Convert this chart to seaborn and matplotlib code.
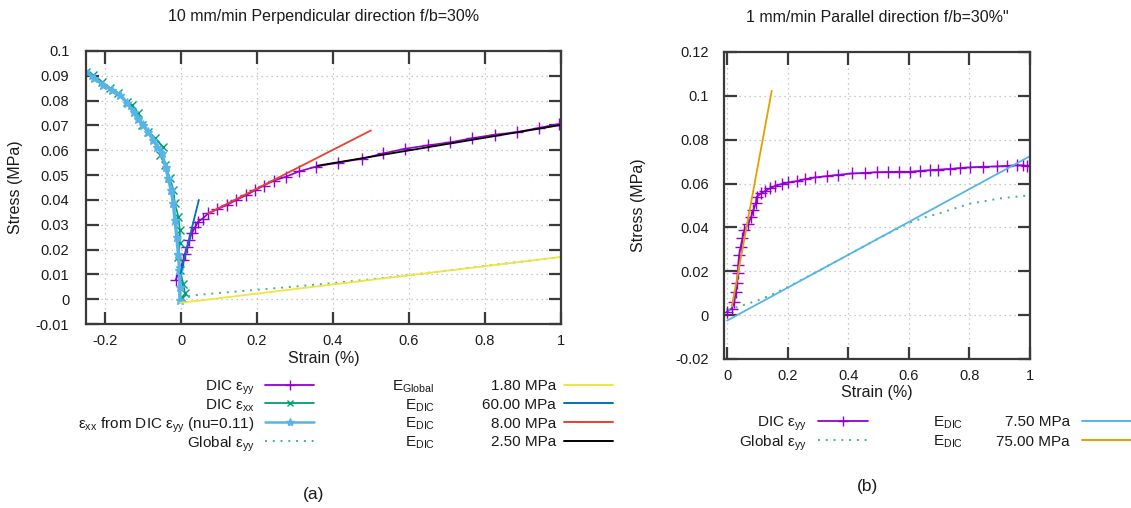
import matplotlib
matplotlib.use("Agg")
import matplotlib.pyplot as plt
import seaborn as sns
from matplotlib.lines import Line2D
from matplotlib.ticker import FixedLocator, FuncFormatter

# ---- data ----
# (a) 10 mm/min perpendicular
a_dic_yy_x = [-0.014, 0.006, 0.0105, 0.0166, 0.022, 0.028, 0.037, 0.045, 0.057, 0.072, 0.095,
              0.120, 0.146, 0.170, 0.194, 0.218, 0.245, 0.277, 0.311, 0.355, 0.413, 0.477,
              0.531, 0.589, 0.650, 0.709, 0.767, 0.826, 0.883, 0.941, 0.995]
a_dic_yy_y = [0.0077, 0.0157, 0.0184, 0.0211, 0.0238, 0.0265, 0.029, 0.0312, 0.0325, 0.0346, 0.0362,
              0.0379, 0.040, 0.0418, 0.0438, 0.0458, 0.0478, 0.0494, 0.0515, 0.0534, 0.055, 0.0566,
              0.0587, 0.0606, 0.062, 0.0632, 0.0649, 0.0663, 0.0673, 0.069, 0.0706]
a_dic_xx_x = [0.002, 0.0105, 0.006, -0.003, -0.007, -0.003, -0.003, -0.007, -0.016, -0.020, -0.029,
              -0.042, -0.055, -0.047, -0.068, -0.086, -0.103, -0.112, -0.130, -0.143, -0.165,
              -0.187, -0.209, -0.231, -0.25]
a_dic_xx_y = [0.0003, 0.0023, 0.0063, 0.0117, 0.0171, 0.0225, 0.0278, 0.0332, 0.0386, 0.044, 0.0487,
              0.054, 0.058, 0.0614, 0.0648, 0.0675, 0.0702, 0.0749, 0.0782, 0.0796, 0.083,
              0.085, 0.0876, 0.0903, 0.0917]
a_nu_xx_x = [-0.003, -0.003, -0.004, -0.007, -0.011, -0.016, -0.020, -0.026, -0.034, -0.040, -0.051,
             -0.062, -0.073, -0.086, -0.099, -0.112, -0.125, -0.142, -0.160, -0.182, -0.204,
             -0.228, -0.252]
a_nu_xx_y = [-0.0004, 0.005, 0.0117, 0.0184, 0.0251, 0.0319, 0.0386, 0.044, 0.049, 0.0533, 0.0587,
             0.0615, 0.0641, 0.0672, 0.0702, 0.0728, 0.0755, 0.079, 0.0823, 0.0843, 0.0863,
             0.089, 0.0921]
a_global_x = [0.0, 0.01, 0.03, 0.1, 0.2, 0.3, 0.4, 0.5, 0.6, 0.7, 0.8, 0.9, 1.0]
a_global_y = [0.0, 0.0008, 0.0015, 0.0025, 0.0038, 0.0051, 0.0065, 0.0080, 0.0097, 0.0115,
              0.0134, 0.0152, 0.017]
a_fit_global_x, a_fit_global_y = [-0.003, 1.0], [-0.0015, 0.017]   # 1.80 MPa
a_fit_60_x, a_fit_60_y = [-0.001, 0.047], [0.0104, 0.040]           # 60.00 MPa
a_fit_8_x, a_fit_8_y = [0.072, 0.50], [0.0346, 0.068]               # 8.00 MPa
a_fit_25_x, a_fit_25_y = [0.36, 1.0], [0.0538, 0.0702]              # 2.50 MPa

# (b) 1 mm/min parallel
b_dic_yy_x = [-0.001, 0.0155, 0.024, 0.029, 0.032, 0.035, 0.037, 0.040, 0.045, 0.051, 0.057, 0.070,
              0.079, 0.087, 0.095, 0.098, 0.112, 0.125, 0.142, 0.158, 0.180, 0.202, 0.230, 0.257,
              0.290, 0.329, 0.367, 0.412, 0.455, 0.494, 0.530, 0.566, 0.604, 0.637, 0.670, 0.697,
              0.736, 0.769, 0.802, 0.846, 0.890, 0.923, 0.956, 0.978, 0.99]
b_dic_yy_y = [0.0015, 0.003, 0.006, 0.0106, 0.0145, 0.019, 0.0228, 0.0274, 0.0312, 0.035, 0.0388,
              0.0415, 0.0446, 0.0479, 0.051, 0.054, 0.0555, 0.0566, 0.0578, 0.0589, 0.0598, 0.0605,
              0.0611, 0.062, 0.0628, 0.0634, 0.064, 0.0646, 0.0649, 0.0652, 0.0653, 0.0654, 0.0654,
              0.0658, 0.0661, 0.0664, 0.0667, 0.0671, 0.0674, 0.0677, 0.0678, 0.0681, 0.0683,
              0.0683, 0.068]
b_global_x = [0.004, 0.03, 0.07, 0.10, 0.15, 0.2, 0.3, 0.4, 0.5, 0.6, 0.65, 0.7, 0.8, 0.9, 1.0]
b_global_y = [0.0023, 0.0035, 0.0053, 0.0066, 0.0095, 0.0128, 0.020, 0.0275, 0.035, 0.042, 0.0445,
              0.0464, 0.0508, 0.0532, 0.0547]
b_fit_75_x, b_fit_75_y = [0.0, 1.0], [-0.0025, 0.0725]              # 7.50 MPa
b_fit_750_x, b_fit_750_y = [0.016, 0.1475], [0.004, 0.1023]         # 75.00 MPa

a_xticks = [-0.2, 0, 0.2, 0.4, 0.6, 0.8, 1.0]
a_yticks = [-0.01, 0, 0.01, 0.02, 0.03, 0.04, 0.05, 0.06, 0.07, 0.08, 0.09, 0.1]
b_xticks = [0, 0.2, 0.4, 0.6, 0.8, 1.0]
b_yticks = [-0.02, 0, 0.02, 0.04, 0.06, 0.08, 0.1, 0.12]

PURPLE, GREEN, LBLUE = "#9400d3", "#009e73", "#56b4e9"
DOTTED = "#3fb58e"
YELLOW, BLUE, RED, ORANGE = "#f0e442", "#0072b2", "#e8412e", "#e69f00"
INK = "#1a1a1a"
LEG_FS = 11

sns.set_theme(style="white")
plt.rcParams["font.family"] = ["Liberation Sans", "DejaVu Sans"]
plt.rcParams["mathtext.fontset"] = "custom"
plt.rcParams["mathtext.rm"] = "Liberation Sans"
plt.rcParams["mathtext.it"] = "Liberation Sans:italic"

W, H = 1131, 508


def fx(px):
    return px / W


def fy(py):
    return 1 - py / H


def curve(ax, x, y, color, **kw):
    if "marker" in kw:
        kw.setdefault("markeredgecolor", color)
        kw.setdefault("markeredgewidth", 1.0)
    sns.lineplot(x=x, y=y, ax=ax, color=color, sort=False, estimator=None,
                 legend=False, **kw)


def style_axes(ax, xlim, ylim, xticks, yticks, ypad):
    ax.set_xlim(*xlim)
    ax.set_ylim(*ylim)
    fmt = FuncFormatter(lambda v, p: f"{round(v, 3) + 0.0:g}")
    ax.xaxis.set_major_locator(FixedLocator(xticks))
    ax.yaxis.set_major_locator(FixedLocator(yticks))
    ax.xaxis.set_major_formatter(fmt)
    ax.yaxis.set_major_formatter(fmt)
    ax.grid(True, color="#b8b8b8", linestyle=(0, (1, 3)), linewidth=0.9)
    ax.tick_params(direction="in", left=True, bottom=True, top=True, right=True,
                   length=9, width=1.6, color="#3a3a3a", labelsize=10.5, labelcolor=INK)
    ax.tick_params(axis="y", pad=ypad)
    ax.tick_params(axis="x", pad=7)
    for s in ax.spines.values():
        s.set_color("#3a3a3a")
        s.set_linewidth(1.6)
    ax.set_xlabel("Strain (%)", fontsize=11.5, color=INK)
    ax.set_ylabel("Stress (MPa)", fontsize=11.5, color=INK)


def key(fig, y, label, x_text, x0, x1, color, **kw):
    fig.text(fx(x_text), fy(y), label, ha="right", va="center_baseline",
             fontsize=LEG_FS, color=INK)
    xm = (x0 + x1) / 2
    fig.add_artist(Line2D([fx(x0), fx(xm), fx(x1)], [fy(y)] * 3, transform=fig.transFigure,
                          color=color, markevery=[1], markeredgecolor=color, **kw))


fig = plt.figure(figsize=(W / 100, H / 100), dpi=100)
ax1 = fig.add_axes([fx(86), fy(324), 475 / W, 273 / H])
ax2 = fig.add_axes([fx(724), fy(359), 306 / W, 307 / H])

# (a)
curve(ax1, a_dic_yy_x, a_dic_yy_y, PURPLE, marker="+", markersize=8, linewidth=1.2)
curve(ax1, a_dic_xx_x, a_dic_xx_y, GREEN, marker="x", markersize=5.5, linewidth=1.2)
curve(ax1, a_nu_xx_x, a_nu_xx_y, LBLUE, marker="*", markersize=6.5, linewidth=2.4)
curve(ax1, a_global_x, a_global_y, DOTTED, linestyle=(0, (1, 3)), linewidth=1.4)
curve(ax1, a_fit_global_x, a_fit_global_y, YELLOW, linewidth=1.3)
curve(ax1, a_fit_60_x, a_fit_60_y, BLUE, linewidth=1.3)
curve(ax1, a_fit_8_x, a_fit_8_y, RED, linewidth=1.3)
curve(ax1, a_fit_25_x, a_fit_25_y, "black", linewidth=1.3)
style_axes(ax1, (-0.25, 1.0), (-0.01, 0.1), a_xticks, a_yticks, 12)
ax1.xaxis.set_label_coords(0.5, -(358 - 324) / 273)
ax1.xaxis.label.set_va("center")
ax1.yaxis.set_label_coords((16 - 86) / 475, 0.5)
ax1.yaxis.label.set_va("center")

# (b)
curve(ax2, b_dic_yy_x, b_dic_yy_y, PURPLE, marker="+", markersize=8, linewidth=1.2)
curve(ax2, b_global_x, b_global_y, DOTTED, linestyle=(0, (1, 3)), linewidth=1.4)
curve(ax2, b_fit_75_x, b_fit_75_y, LBLUE, linewidth=1.3)
curve(ax2, b_fit_750_x, b_fit_750_y, ORANGE, linewidth=1.3)
style_axes(ax2, (-0.01, 1.0), (-0.02, 0.12), b_xticks, b_yticks, 11)
ax2.xaxis.set_label_coords(0.5, -(393 - 359) / 307)
ax2.xaxis.label.set_va("center")
ax2.yaxis.set_label_coords((638 - 724) / 306, 0.5)
ax2.yaxis.label.set_va("center")

fig.text(fx(323.5), fy(17), "10 mm/min Perpendicular direction f/b=30%", ha="center",
         va="center", fontsize=11.5, color=INK)
fig.text(fx(877), fy(17), "1 mm/min Parallel direction f/b=30%\"", ha="center",
         va="center", fontsize=11.5, color=INK)

# legend (a)
rows_a = [384.5, 403.3, 422, 440.8]
key(fig, rows_a[0], "DIC ε$_\\mathrm{yy}$", 255, 265, 314, PURPLE, marker="+", markersize=7, lw=1.3)
key(fig, rows_a[1], "DIC ε$_\\mathrm{xx}$", 255, 265, 314, GREEN, marker="x", markersize=5, lw=1.3)
key(fig, rows_a[2], "ε$_\\mathrm{xx}$ from DIC ε$_\\mathrm{yy}$ (nu=0.11)", 255, 265, 314, LBLUE,
    marker="*", markersize=6, lw=1.8)
key(fig, rows_a[3], "Global ε$_\\mathrm{yy}$", 255, 265, 314, DOTTED, linestyle=(0, (1, 3)), lw=1.4)
fit_labels_a = ["E$_\\mathrm{Global}$", "E$_\\mathrm{DIC}$", "E$_\\mathrm{DIC}$", "E$_\\mathrm{DIC}$"]
fit_values_a = ["1.80 MPa", "60.00 MPa", "8.00 MPa", "2.50 MPa"]
fit_colors_a = [YELLOW, BLUE, RED, "black"]
for y, lab, val, c in zip(rows_a, fit_labels_a, fit_values_a, fit_colors_a):
    fig.text(fx(435), fy(y), lab, ha="right", va="center_baseline", fontsize=LEG_FS, color=INK)
    key(fig, y, val, 556, 564, 613, c, lw=1.4)

# legend (b)
rows_b = [421, 440]
key(fig, rows_b[0], "DIC ε$_\\mathrm{yy}$", 807, 818, 868, PURPLE, marker="+", markersize=7, lw=1.3)
key(fig, rows_b[1], "Global ε$_\\mathrm{yy}$", 807, 818, 868, DOTTED, linestyle=(0, (1, 3)), lw=1.4)
fit_values_b = ["7.50 MPa", "75.00 MPa"]
fit_colors_b = [LBLUE, ORANGE]
for y, val, c in zip(rows_b, fit_values_b, fit_colors_b):
    fig.text(fx(963), fy(y), "E$_\\mathrm{DIC}$", ha="right", va="center_baseline",
             fontsize=LEG_FS, color=INK)
    key(fig, y, val, 1070, 1082, 1131, c, lw=1.4)

fig.text(fx(314), fy(494), "(a)", ha="center", va="center", fontsize=12.5, color=INK)
fig.text(fx(868), fy(487), "(b)", ha="center", va="center", fontsize=12.5, color=INK)

fig.savefig("out.png", dpi=100)
